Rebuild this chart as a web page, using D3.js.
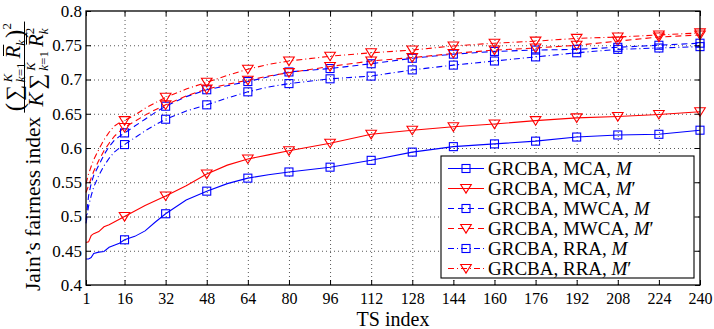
<!DOCTYPE html>
<html><head><meta charset="utf-8">
<script src="https://cdn.jsdelivr.net/npm/d3@7"></script>
<style>
body{margin:0;background:#fff;}
svg{display:block;}
text{font-family:"Liberation Serif","Times New Roman",serif;}
</style></head>
<body><svg id="c" width="714" height="329"></svg>
<script>
// ---- data ----
const tsIndex = [1,2,3,4,6,8,10,12,14,16,20,24,28,32,40,48,56,64,72,80,96,112,128,144,160,176,192,208,224,240];
const markerTs = [16,32,48,64,80,96,112,128,144,160,176,192,208,224,240];
const xTicks = [1,16,32,48,64,80,96,112,128,144,160,176,192,208,224,240];
const yTicks = [0.4,0.45,0.5,0.55,0.6,0.65,0.7,0.75,0.8];
const mcaM   = [0.438,0.438,0.440,0.446,0.448,0.449,0.455,0.458,0.461,0.466,0.471,0.479,0.492,0.504,0.524,0.537,0.548,0.556,0.561,0.565,0.572,0.582,0.594,0.602,0.606,0.610,0.616,0.619,0.620,0.626];
const mcaMp  = [0.462,0.463,0.472,0.475,0.478,0.485,0.488,0.492,0.496,0.500,0.508,0.516,0.523,0.530,0.545,0.562,0.575,0.584,0.590,0.596,0.607,0.620,0.626,0.631,0.635,0.640,0.644,0.646,0.649,0.653];
const mwcaM  = [0.495,0.530,0.548,0.560,0.575,0.590,0.602,0.611,0.617,0.622,0.632,0.642,0.652,0.661,0.675,0.685,0.691,0.697,0.704,0.711,0.716,0.723,0.731,0.737,0.741,0.743,0.744,0.747,0.750,0.753];
const mwcaMp = [0.535,0.545,0.556,0.566,0.582,0.596,0.607,0.617,0.624,0.630,0.639,0.648,0.656,0.663,0.676,0.686,0.693,0.699,0.705,0.710,0.719,0.727,0.732,0.738,0.743,0.746,0.750,0.756,0.762,0.765];
const rraM   = [0.490,0.515,0.530,0.543,0.560,0.574,0.585,0.594,0.600,0.605,0.615,0.625,0.634,0.642,0.654,0.663,0.673,0.682,0.689,0.694,0.701,0.705,0.714,0.721,0.727,0.733,0.739,0.744,0.746,0.748];
const rraMp  = [0.548,0.562,0.573,0.583,0.598,0.612,0.623,0.632,0.637,0.640,0.648,0.658,0.666,0.674,0.686,0.696,0.706,0.715,0.722,0.727,0.734,0.739,0.743,0.749,0.753,0.756,0.760,0.762,0.765,0.768];
const seriesNames = ["MCA","MCA","MWCA","MWCA","RRA","RRA"];
const seriesPrime = [false,true,false,true,false,true];

const BLUE="#0000ff", RED="#ff0000";
const series = [
  {vals:mcaM,  color:BLUE, dash:null,        marker:"square"},
  {vals:mcaMp, color:RED,  dash:null,        marker:"tri"},
  {vals:mwcaM, color:BLUE, dash:"6,4",       marker:"square"},
  {vals:mwcaMp,color:RED,  dash:"6,4",       marker:"tri"},
  {vals:rraM,  color:BLUE, dash:"6,3,1,3",   marker:"square"},
  {vals:rraMp, color:RED,  dash:"6,3,1,3",   marker:"tri"}
];

const L=86, R=700, T=11, B=285;
const svg = d3.select("#c");
const x = d3.scaleLinear().domain([1,240]).range([L,R]);
const y = d3.scaleLinear().domain([0.4,0.8]).range([B,T]);
const fmt = d => String(+d.toFixed(2));

// grid
const grid = svg.append("g");
grid.append("g").attr("transform",`translate(0,${B})`)
  .call(d3.axisBottom(x).tickValues(xTicks.slice(1,-1)).tickSize(-(B-T)).tickFormat(""))
  .call(g=>{g.select(".domain").remove(); g.selectAll("line").attr("stroke","#444").attr("stroke-dasharray","1,3").attr("stroke-width",0.9);});
grid.append("g").attr("transform",`translate(${L},0)`)
  .call(d3.axisLeft(y).tickValues(yTicks.slice(1,-1)).tickSize(-(R-L)).tickFormat(""))
  .call(g=>{g.select(".domain").remove(); g.selectAll("line").attr("stroke","#444").attr("stroke-dasharray","1,3").attr("stroke-width",0.9);});

// lines
const plot = svg.append("g");
series.forEach(s=>{
  const pts = tsIndex.map((t,i)=>[t,s.vals[i]]);
  plot.append("path").datum(pts)
    .attr("d", d3.line().x(d=>x(d[0])).y(d=>y(d[1])))
    .attr("fill","none").attr("stroke",s.color).attr("stroke-width",1.1)
    .attr("stroke-dasharray",s.dash);
});
function drawMarker(g, type, cx, cy, color){
  if(type==="square"){
    g.append("rect").attr("x",cx-4).attr("y",cy-4).attr("width",8).attr("height",8)
      .attr("fill","none").attr("stroke",color).attr("stroke-width",1.1);
  } else {
    g.append("path").attr("d",`M${cx-5.3},${cy-4}L${cx+5.3},${cy-4}L${cx},${cy+4.6}Z`)
      .attr("fill","none").attr("stroke",color).attr("stroke-width",1.1);
  }
}
series.forEach(s=>{
  tsIndex.forEach((t,i)=>{
    if(markerTs.includes(t)) drawMarker(plot, s.marker, x(t), y(s.vals[i]), s.color);
  });
});

// axes box and ticks
const ax = svg.append("g");
ax.append("g").attr("transform",`translate(0,${B})`)
  .call(d3.axisBottom(x).tickValues(xTicks).tickSizeInner(-5).tickSizeOuter(0).tickPadding(8))
  .call(g=>{g.select(".domain").remove(); g.selectAll("text").attr("font-size",16).attr("fill","#000");});
ax.append("g").attr("transform",`translate(0,${T})`)
  .call(d3.axisTop(x).tickValues(xTicks).tickSizeInner(-5).tickSizeOuter(0).tickFormat(""))
  .call(g=>g.select(".domain").remove());
ax.append("g").attr("transform",`translate(${L},0)`)
  .call(d3.axisLeft(y).tickValues(yTicks).tickFormat(fmt).tickSizeInner(-5).tickSizeOuter(0).tickPadding(4))
  .call(g=>{g.select(".domain").remove(); g.selectAll("text").attr("font-size",17).attr("fill","#000");});
ax.append("g").attr("transform",`translate(${R},0)`)
  .call(d3.axisRight(y).tickValues(yTicks).tickSizeInner(-5).tickSizeOuter(0).tickFormat(""))
  .call(g=>g.select(".domain").remove());
ax.append("rect").attr("x",L).attr("y",T).attr("width",R-L).attr("height",B-T)
  .attr("fill","none").attr("stroke","#000").attr("stroke-width",1.3);

// x label
svg.append("text").attr("x",(L+R)/2).attr("y",326).attr("text-anchor","middle")
  .attr("font-size",20).text("TS index");

// y label with formula
const yl = svg.append("g").attr("transform","translate(40,291) rotate(-90)");
const lab = yl.append("text").attr("x",0).attr("y",0).attr("font-size",21.5).text("Jain\u2019s fairness index");
let cur = lab.node().getComputedTextLength() + 4;

function piece(g, str, px, py, size, italic, fam){
  const t = g.append("text").attr("x",px).attr("y",py).attr("font-size",size).text(str);
  if(italic) t.attr("font-style","italic");
  if(fam) t.attr("font-family",fam);
  return t.node().getComputedTextLength();
}
const SIG = "\u2211", SIGF = "DejaVu Serif";
function limits(g, p, by){
  const k1 = g.append("text").attr("x",p).attr("y",by+5).attr("font-size",13);
  k1.append("tspan").attr("font-style","italic").text("k");
  k1.append("tspan").text("=1");
  const w1 = k1.node().getComputedTextLength();
  const w2 = piece(g,"K",p,by-8,12.5,true);
  return Math.max(w1,w2);
}
function rbar(g, p, by){
  const wr = piece(g,"R",p,by,21,true);
  g.append("line").attr("x1",p+2.5).attr("x2",p+wr+1).attr("y1",by-16.5).attr("y2",by-16.5).attr("stroke","#000").attr("stroke-width",1);
  return wr;
}
function buildNum(g, by){
  let p = 0;
  p += piece(g,"(",p,by+3,25,false)+2;
  p += piece(g,SIG,p,by+1,22,false,SIGF)+3;
  p += limits(g,p,by)+4;
  p += rbar(g,p,by);
  p += piece(g,"k",p,by+5,13,true)+2;
  p += piece(g,")",p,by+3,25,false);
  p += piece(g,"2",p,by-9,13,false);
  return p;
}
function buildDen(g, by){
  let p = 0;
  p += piece(g,"K",p,by,21,true)+3;
  p += piece(g,SIG,p,by+1,22,false,SIGF)+3;
  p += limits(g,p,by)+4;
  p += rbar(g,p,by);
  const a = piece(g,"k",p,by+5,13,true);
  const b2 = piece(g,"2",p,by-9,13,false);
  p += Math.max(a,b2);
  return p;
}
const numG = yl.append("g"), denG = yl.append("g");
const wn = buildNum(numG, -20);
const wd = buildDen(denG, 3);
const fw = Math.max(wn,wd)+3;
numG.attr("transform",`translate(${cur+(fw-wn)/2},0)`);
denG.attr("transform",`translate(${cur+(fw-wd)/2},0)`);
yl.append("line").attr("x1",cur).attr("x2",cur+fw).attr("y1",-15.5).attr("y2",-15.5).attr("stroke","#000").attr("stroke-width",1);

// legend
const lg = svg.append("g");
lg.append("rect").attr("x",441).attr("y",156).attr("width",253).attr("height",122)
  .attr("fill","#fff").attr("stroke","#000").attr("stroke-width",1.1);
series.forEach((s,i)=>{
  const ly = 168.5 + i*20;
  lg.append("line").attr("x1",448).attr("x2",484).attr("y1",ly).attr("y2",ly)
    .attr("stroke",s.color).attr("stroke-width",1.1).attr("stroke-dasharray",s.dash);
  drawMarker(lg, s.marker, 466, ly, s.color);
  const t = lg.append("text").attr("x",488).attr("y",ly+6.5).attr("font-size",19);
  t.append("tspan").text(`GRCBA, ${seriesNames[i]}, `);
  t.append("tspan").attr("font-style","italic").text("M");
  if(seriesPrime[i]) t.append("tspan").text("\u2032");
});
</script></body></html>
